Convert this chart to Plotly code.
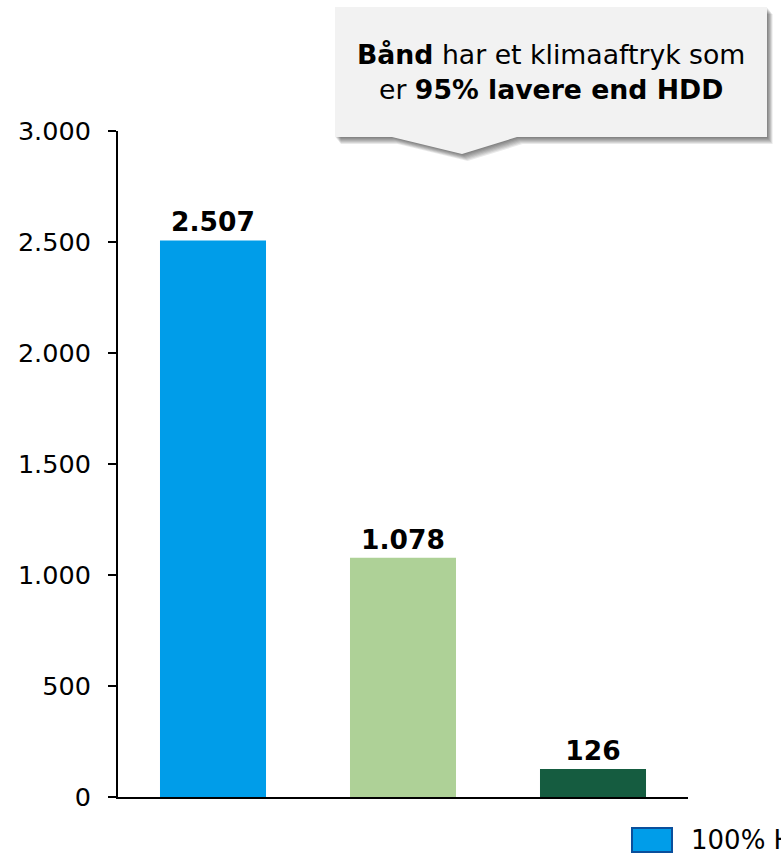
import plotly.graph_objects as go

# Climate footprint per storage option
categories = ["100% HDD", "HDD + Bånd", "100% Bånd"]
values = [2507, 1078, 126]
bar_colors = ["#009DE9", "#AED197", "#155C40"]
edge_colors = ["#0A4F9C", "#6F9A55", "#0C3A28"]

y_ticks = [0, 500, 1000, 1500, 2000, 2500, 3000]

W, H = 781, 858
ML, MR, MT, MB = 118, 93, 131, 61
PW, PH = W - ML - MR, H - MT - MB


def px_x(x):
    return (x - ML) / PW


def px_y(y):
    return (H - MB - y) / PH


fig = go.Figure()
fig.add_trace(go.Bar(
    x=categories,
    y=values,
    marker=dict(color=bar_colors, line=dict(width=0)),
    text=values,
    texttemplate="%{y:,}",
    textposition="outside",
    textfont=dict(family="DejaVu Sans", size=26.5, color="#000000", weight="bold"),
    cliponaxis=False,
    showlegend=False,
))

shapes = []

# Speech-bubble callout with a soft drop shadow
bubble = [(335, 7), (767, 7), (767, 137), (517, 137), (462, 154), (392, 137), (335, 137)]


def bubble_path(dx, dy):
    pts = [f"{px_x(x + dx):.5f},{px_y(y + dy):.5f}" for x, y in bubble]
    return "M " + " L ".join(pts) + " Z"


for off in range(1, 8):
    shapes.append(dict(
        type="path", xref="paper", yref="paper",
        path=bubble_path(off * 0.8, off),
        fillcolor="rgba(0,0,0,0.085)", line=dict(width=0), layer="above",
    ))
shapes.append(dict(
    type="path", xref="paper", yref="paper",
    path=bubble_path(0, 0),
    fillcolor="#F2F2F2", line=dict(width=0), layer="above",
))

# Legend drawn as boxes along the bottom edge (only entries that start inside the page)
annotations = []
lx = 632
for name, col, edge in zip(categories, bar_colors, edge_colors):
    if lx >= W:
        break
    shapes.append(dict(
        type="rect", xref="paper", yref="paper",
        x0=px_x(lx), x1=px_x(lx + 40), y0=px_y(852), y1=px_y(828),
        fillcolor=col, line=dict(color=edge, width=2),
    ))
    annotations.append(dict(
        xref="paper", yref="paper", x=px_x(lx + 57), y=px_y(840),
        text=name, showarrow=False, xanchor="left", yanchor="middle",
        font=dict(family="DejaVu Sans", size=26, color="#000000"),
    ))
    lx += 57 + len(name) * 17 + 40

annotations.append(dict(
    xref="paper", yref="paper", x=px_x(551), y=px_y(72),
    text="<b>Bånd</b> har et klimaaftryk som<br>er <b>95% lavere end HDD</b>",
    showarrow=False, xanchor="center", yanchor="middle", align="center",
    font=dict(family="DejaVu Sans", size=26.7, color="#000000"),
))

fig.update_layout(
    width=W, height=H,
    margin=dict(l=ML, r=MR, t=MT, b=MB, pad=0),
    paper_bgcolor="white", plot_bgcolor="white",
    separators=",.",
    bargap=0.442,
    showlegend=False,
    shapes=shapes,
    annotations=annotations,
    font=dict(family="DejaVu Sans", color="#000000"),
)
fig.update_xaxes(
    showticklabels=False, ticks="", showgrid=False, zeroline=False,
    showline=True, linecolor="#000000", linewidth=2,
)
fig.update_yaxes(
    range=[0, 3000], tickvals=y_ticks, tickformat=",d",
    ticks="outside", ticklen=8, tickwidth=2, tickcolor="#000000",
    ticklabelstandoff=12,
    showgrid=False, zeroline=False,
    showline=True, linecolor="#000000", linewidth=2,
    tickfont=dict(family="DejaVu Sans", size=25.5, color="#000000"),
)

fig.write_html("out.html")
